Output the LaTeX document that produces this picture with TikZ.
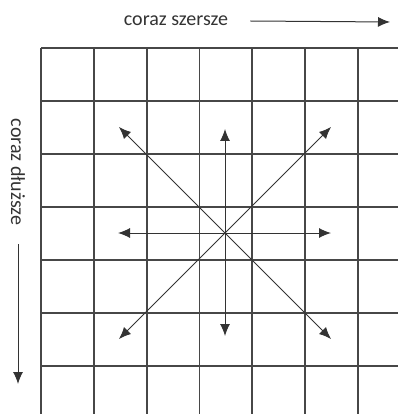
\documentclass[tikz,border=0pt]{standalone}
\usepackage{fontspec}
\setmainfont{Carlito}
\usetikzlibrary{arrows.meta}
\tikzset{
  gridline/.style={line width=1.8pt, draw=black!72},
  dirarrow/.style={->, line width=1pt, draw=black!80},
  edgetext/.style={font=\fontsize{20}{24}\selectfont, text=black!80, inner sep=0pt}
}
\begin{document}
\begin{tikzpicture}[>={Latex[length=12pt,width=10pt]}, x=1pt, y=-1pt]
    \useasboundingbox (0,0) rectangle (398,414);
    % the grid
    \foreach \i in {0,...,6} {
        \draw[gridline] (41+52.8*\i,48) -- (41+52.8*\i,414);
        \draw[gridline] (41,48+53*\i) -- (398,48+53*\i);
    }
    % labels on the edges
    \node[edgetext] (wide) at (176,21) {coraz szersze};
    \node[edgetext, rotate=-90] (long) at (18,172) {coraz dłuższe};
    \coordinate (wideEnd) at (390,22);
    \coordinate (longEnd) at (18,384);
    \draw[dirarrow] ([xshift=22pt]wide.east) -- (wideEnd);
    \draw[dirarrow] ([yshift=-19pt]long.east) -- (longEnd);
    % arrows from the centre
    \coordinate (c) at (225,233);
    \coordinate (n) at (225,129);
    \coordinate (s) at (225,336);
    \coordinate (w) at (118,233);
    \coordinate (e) at (331,233);
    \coordinate (nw) at (119,127);
    \coordinate (ne) at (331,127);
    \coordinate (sw) at (119,339);
    \coordinate (se) at (331,339);
    \foreach \d in {n,s,w,e,nw,ne,sw,se}
        \draw[dirarrow] (c) -- (\d);
\end{tikzpicture}
\end{document}
